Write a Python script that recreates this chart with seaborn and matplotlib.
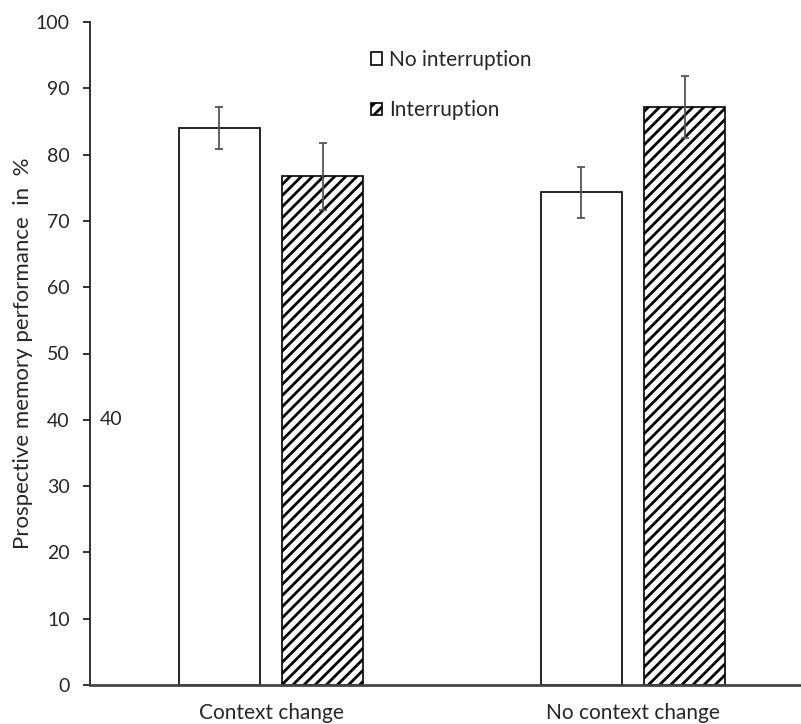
import matplotlib
matplotlib.use("Agg")
import matplotlib.pyplot as plt
import seaborn as sns
import pandas as pd
from matplotlib.patches import Patch

# Data
contexts = ["Context change", "No context change"]
conditions = ["No interruption", "Interruption"]
no_interruption = [84.0, 74.3]
interruption = [76.7, 87.2]
err_no_interruption = [3.2, 3.8]
err_interruption = [5.0, 4.7]
y_ticks = [0, 10, 20, 30, 40, 50, 60, 70, 80, 90, 100]

sns.set_style("white")
plt.rcParams["font.family"] = ["Lato", "DejaVu Sans"]
plt.rcParams["hatch.linewidth"] = 2.0
plt.rcParams["hatch.color"] = "black"

df = pd.DataFrame({
    "Context": contexts * 2,
    "Condition": [conditions[0]] * 2 + [conditions[1]] * 2,
    "Value": no_interruption + interruption,
})

fig = plt.figure(figsize=(8.01, 7.24), dpi=100)
ax = fig.add_axes([90 / 801, 1 - 685 / 724, 1 - 90 / 801, (685 - 22) / 724])

sns.barplot(data=df, x="Context", y="Value", hue="Condition",
            order=contexts, hue_order=conditions,
            palette=["white", "white"], edgecolor="black", linewidth=1.2,
            width=0.57, gap=0.21, errorbar=None, legend=False, ax=ax)

errs = {conditions[0]: err_no_interruption, conditions[1]: err_interruption}
vals = {conditions[0]: no_interruption, conditions[1]: interruption}
for container, cond in zip(ax.containers, conditions):
    for bar, v, e in zip(container, vals[cond], errs[cond]):
        if cond == "Interruption":
            bar.set_hatch("///")
        xc = bar.get_x() + bar.get_width() / 2
        ax.errorbar(xc, v, yerr=e, color="#555555", capsize=2.7, elinewidth=1.3,
                    capthick=1.3, zorder=5)

ax.set_ylim(0, 100)
ax.set_xlim(-0.5, 1.464)
ax.set_yticks(y_ticks)
ax.set_yticklabels([str(t) for t in y_ticks], fontsize=14)
ax.tick_params(axis="y", which="both", left=True, length=5, width=1.3, color="#222222", pad=9.5)
ax.tick_params(axis="x", length=0, labelsize=15, pad=13)
ax.set_xlabel("")
ax.set_ylabel("Prospective memory performance  in  %", fontsize=16)
ax.yaxis.set_label_coords((33 - 90) / 711, 0.5)
for s in ["top", "right"]:
    ax.spines[s].set_visible(False)
ax.spines["left"].set_color("#222222")
ax.spines["left"].set_linewidth(1.3)
ax.spines["bottom"].set_color("#444444")
ax.spines["bottom"].set_linewidth(2)

ax.text(-0.473, 40, "40", fontsize=14, va="center", ha="left")

handles = [Patch(facecolor="white", edgecolor="black", linewidth=1.2),
           Patch(facecolor="white", edgecolor="black", hatch="///", linewidth=1.2)]
fig.legend(handles, conditions, loc="upper left",
           bbox_to_anchor=(371 / 801, 1 - 50 / 724), frameon=False,
           fontsize=15, handlelength=0.55, handleheight=0.55,
           handletextpad=0.3, labelspacing=1.45, borderpad=0, borderaxespad=0)

fig.savefig("out.png", dpi=100)
